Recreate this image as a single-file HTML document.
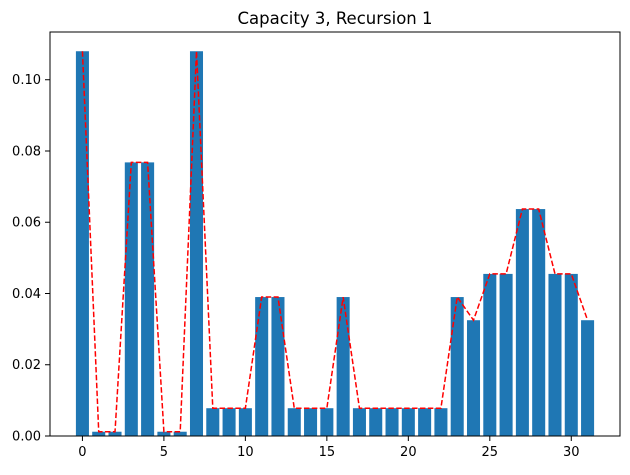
<!DOCTYPE html>
<html><head><meta charset="utf-8"><style>
body{margin:0;background:#fff;font-family:"Liberation Sans","DejaVu Sans",sans-serif;}
svg text{font-family:"DejaVu Sans","Liberation Sans",sans-serif;}
</style></head><body>
<svg id="chart" width="630" height="470">
<text x="335" y="24" text-anchor="middle" font-size="16.5">Capacity 3, Recursion 1</text>
<g id="bars"></g>
<g id="line"></g>
<g id="axes"></g>
</svg>
<script>
const categories=[0,1,2,3,4,5,6,7,8,9,10,11,12,13,14,15,16,17,18,19,20,21,22,23,24,25,26,27,28,29,30,31];
const values=[0.108,0.0012,0.0012,0.0768,0.0768,0.0012,0.0012,0.108,0.0078,0.0078,0.0078,0.039,0.039,0.0078,0.0078,0.0078,0.039,0.0078,0.0078,0.0078,0.0078,0.0078,0.0078,0.039,0.0325,0.0455,0.0455,0.0637,0.0637,0.0455,0.0455,0.0325];
const yTicks=[0,0.02,0.04,0.06,0.08,0.10];
const yLabels=["0.00","0.02","0.04","0.06","0.08","0.10"];
const xTicks=[0,5,10,15,20,25,30];
const L=50,R=620,T=32,B=436;
const xmin=-1.99,xmax=32.99,ymax=0.1134;
const sx=v=>L+(v-xmin)/(xmax-xmin)*(R-L);
const sy=v=>B-v/ymax*(B-T);
const NS="http://www.w3.org/2000/svg";
function mk(tag,attrs,parent){const e=document.createElementNS(NS,tag);for(const k in attrs)e.setAttribute(k,attrs[k]);parent.appendChild(e);return e;}
const bars=document.getElementById('bars'),line=document.getElementById('line'),axes=document.getElementById('axes');
const bw=0.8*(sx(1)-sx(0));
categories.forEach((c,i)=>{
 const r=mk('rect',{x:sx(c)-bw/2,y:sy(values[i]),width:bw,height:B-sy(values[i]),fill:'#1f77b4'},bars);
 
 
});
const pts=categories.map((c,i)=>sx(c)+','+sy(values[i])).join(' ');
const pl=mk('polyline',{points:pts,fill:'none',stroke:'#ff0000','stroke-width':1.5,'stroke-dasharray':'5.5,2.4'},line);


const fr=mk('rect',{x:L,y:T,width:R-L,height:B-T,fill:'none',stroke:'#000','stroke-width':1},axes);


yTicks.forEach((v,i)=>{
 mk('line',{x1:L-5,x2:L,y1:sy(v),y2:sy(v),stroke:'#000','stroke-width':1},axes);
 const t=mk('text',{x:L-9,y:sy(v)+4.5,'text-anchor':'end','font-size':13},axes);
 t.textContent=yLabels[i];
 
 
});
xTicks.forEach(v=>{
 mk('line',{x1:sx(v),x2:sx(v),y1:B,y2:B+5,stroke:'#000','stroke-width':1},axes);
 const t=mk('text',{x:sx(v),y:B+20,'text-anchor':'middle','font-size':13},axes);
 t.textContent=String(v);
 
 
});
</script>
</body></html>
